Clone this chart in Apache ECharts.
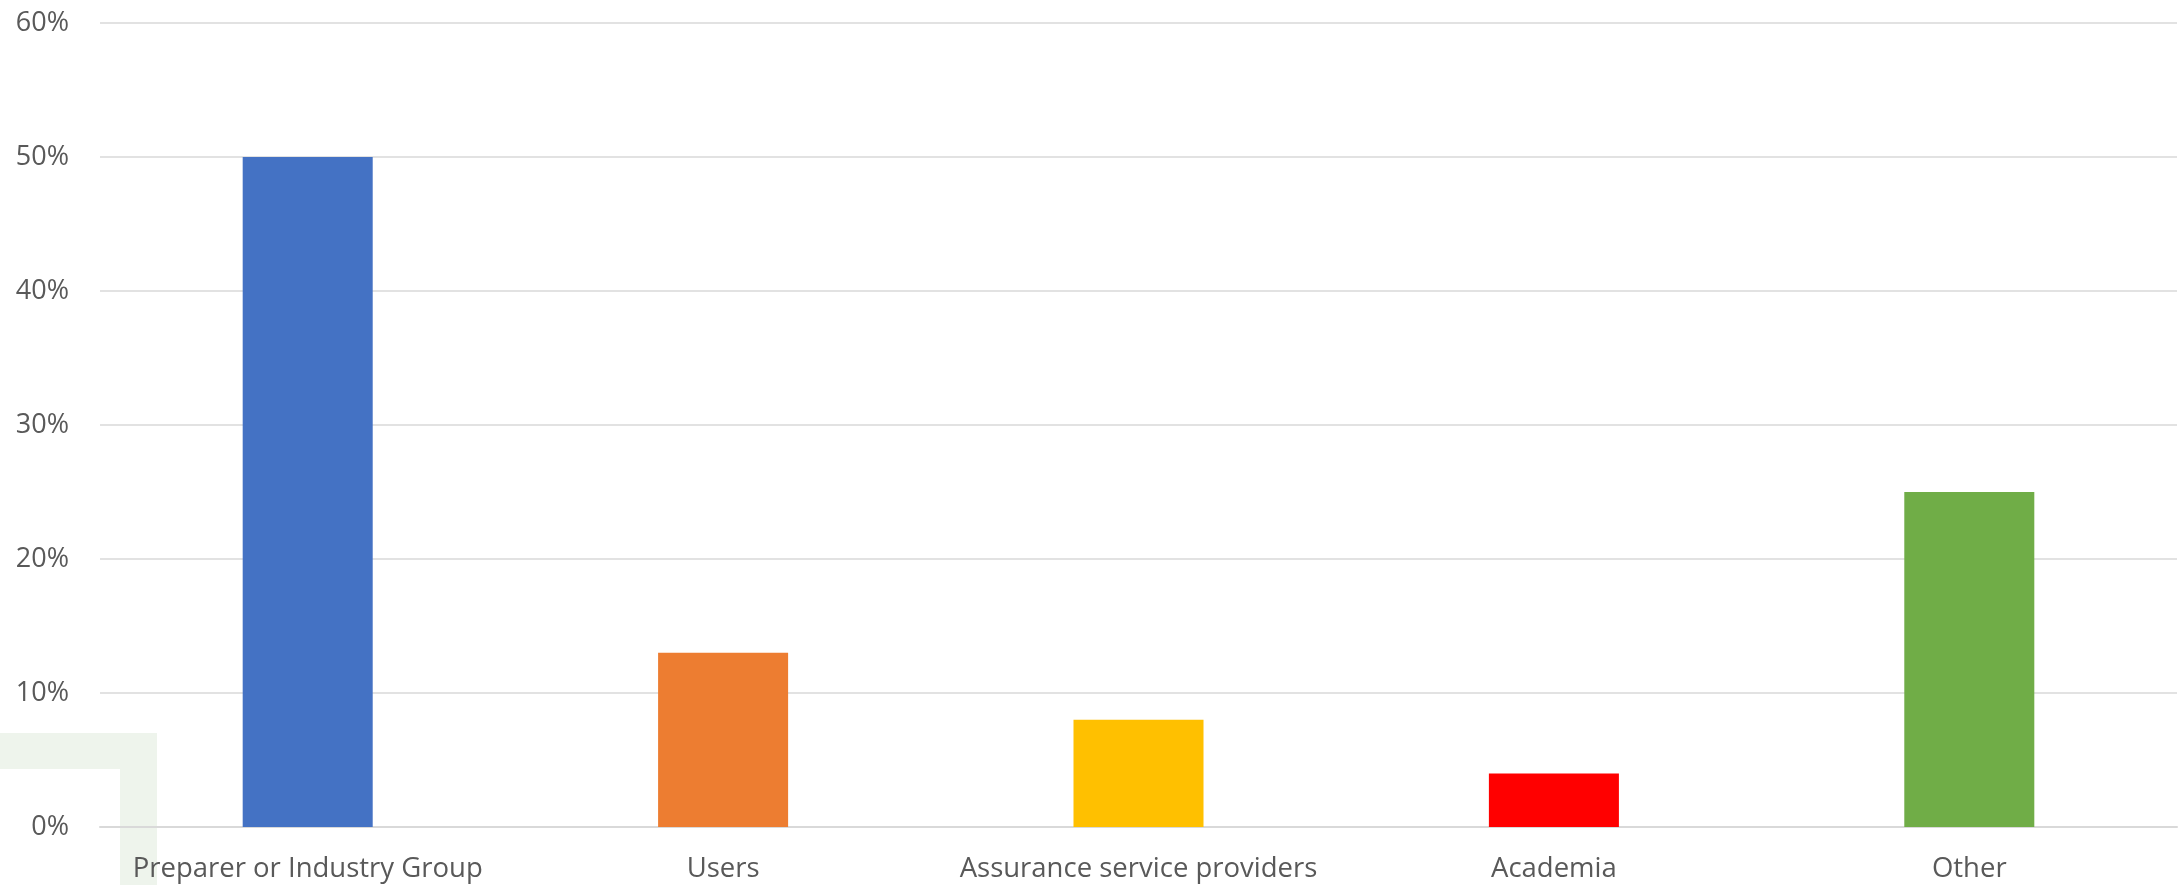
<!DOCTYPE html>
<html><head><meta charset="utf-8">
<script src="https://cdn.jsdelivr.net/npm/echarts@6/dist/echarts.min.js"></script>
<style>html,body{margin:0;padding:0;background:#fff}#c{width:2183px;height:885px}</style>
</head><body><div id="c"></div>
<script>
const categories = ["Preparer or Industry Group", "Users", "Assurance service providers", "Academia", "Other"];
const values = [50, 13, 8, 4, 25];
const barColors = ["#4472C4", "#ED7D31", "#FFC000", "#FF0000", "#70AD47"];
const yTicks = [0, 10, 20, 30, 40, 50, 60];

const chart = echarts.init(document.getElementById('c'));
chart.setOption({
  animation: false,
  backgroundColor: '#ffffff',
  graphic: [
    { type: 'polygon', z: -10, silent: true,
      shape: { points: [[0,733],[157,733],[157,885],[120,885],[120,769],[0,769]] },
      style: { fill: '#eef4ec' } }
  ],
  grid: { left: 100, right: 6, top: 23, bottom: 58, containLabel: false },
  xAxis: {
    type: 'category', data: categories,
    axisLine: { show: true, lineStyle: { color: '#d9d9d9', width: 2 } },
    axisTick: { show: false },
    axisLabel: { color: '#595959', fontSize: 27.5, fontFamily: 'Open Sans', margin: 28, interval: 0 }
  },
  yAxis: {
    type: 'value', min: yTicks[0], max: yTicks[yTicks.length - 1], interval: 10,
    axisLine: { show: false }, axisTick: { show: false },
    splitLine: { lineStyle: { color: '#d9d9d9', width: 1.5 } },
    axisLabel: { color: '#595959', fontSize: 27, fontFamily: 'Open Sans', margin: 31, formatter: v => v + '%' }
  },
  series: [{
    type: 'bar', data: values.map((v, i) => ({ value: v, itemStyle: { color: barColors[i] } })),
    barWidth: '31.3%'
  }]
});
</script></body></html>
